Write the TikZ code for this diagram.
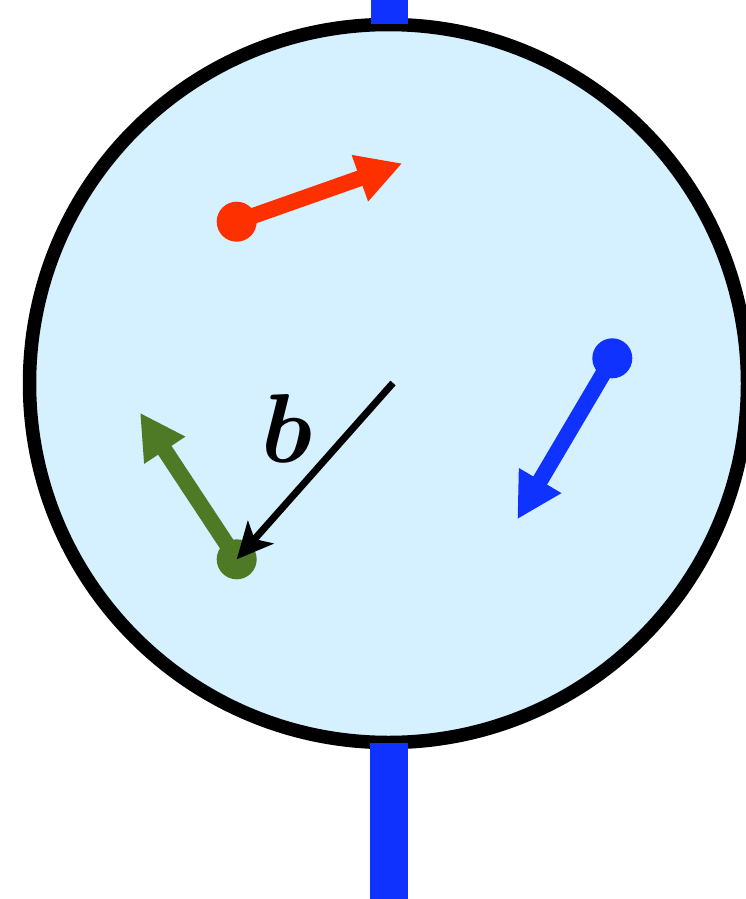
\documentclass[tikz,border=0pt]{standalone}
\usetikzlibrary{arrows.meta}
\definecolor{skyfill}{RGB}{213,240,255}
\definecolor{barblue}{RGB}{15,50,255}
\definecolor{redarrow}{RGB}{255,48,0}
\definecolor{greenarrow}{RGB}{78,122,38}
\tikzset{
  dot/.style={circle, fill=#1, inner sep=0pt, minimum size=40pt},
  vec/.style={draw=#1, line width=16pt, -{Triangle[length=45pt,width=46pt]}},
  bar/.style={fill=barblue, draw=none}
}
\begin{document}
\begin{tikzpicture}[x=1pt,y=-1pt]
\useasboundingbox (0,0) rectangle (746,899);
\clip (0,0) rectangle (746,899);
% body
\node[circle, draw=black, fill=skyfill, line width=13.5pt, minimum size=718pt, inner sep=0pt] (body) at (388.5,383.5) {};
\coordinate (c) at (393,383);
% bars
\fill[bar] (371,0) rectangle (408,24);
\fill[bar] (370,743) rectangle (408,899);
% red
\coordinate (rtip) at (402.3,163.3);
\node[dot=redarrow] (r) at (236.7,221.7) {};
\draw[vec=redarrow] (r.center) -- (rtip);
% blue
\coordinate (btip) at (517.3,519.3);
\node[dot=barblue] (bl) at (612.3,358.3) {};
\draw[vec=barblue] (bl.center) -- (btip);
% green
\coordinate (gtip) at (140,412.7);
\node[dot=greenarrow] (g) at (236.7,559.3) {};
\draw[vec=greenarrow] (g.center) -- (gtip);
% black
\draw[line width=7pt, -{Stealth[length=36pt,width=34pt,inset=9pt]}] (c) -- (g.center);
\node[font=\Huge\boldmath, scale=3.94, inner sep=0pt] (lab) at (286.7,428) {$b$};
\end{tikzpicture}
\end{document}
